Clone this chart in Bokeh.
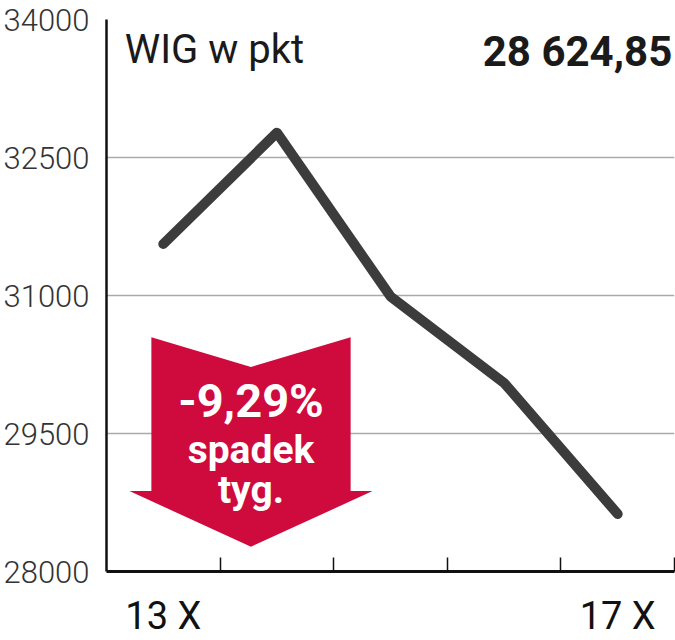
from bokeh.plotting import figure
from bokeh.models import Range1d, FixedTicker, ColumnDataSource, Label
from bokeh.core.properties import value
from bokeh.embed import file_html
from bokeh.resources import INLINE

# data
days = ["13 X", "14 X", "15 X", "16 X", "17 X"]
wig = [31560, 32770, 30990, 30050, 28624.85]
y_ticks = [28000, 29500, 31000, 32500, 34000]
title_txt = "WIG w pkt"
last_txt = "28 624,85"
badge_lines = ["-9,29%", "spadek", "tyg."]

xs = [i + 0.5 for i in range(len(days))]

p = figure(width=675, height=640, output_backend="svg", toolbar_location=None,
           x_range=Range1d(0, len(days)), y_range=Range1d(28000, 34000),
           min_border_left=104, min_border_right=1, min_border_top=19, min_border_bottom=67)
p.outline_line_color = None
p.background_fill_color = "white"
p.border_fill_color = "white"

# y axis
p.yaxis.ticker = FixedTicker(ticks=y_ticks)
p.yaxis.major_tick_line_color = None
p.yaxis.minor_tick_line_color = None
p.yaxis.axis_line_color = "#111111"
p.yaxis.axis_line_width = 2.5
p.yaxis.major_label_text_font = "Roboto Light, Roboto"
p.yaxis.major_label_text_font_size = "31px"
p.yaxis.major_label_text_color = "#333333"
p.yaxis.major_label_standoff = 11
p.ygrid.ticker = FixedTicker(ticks=y_ticks[1:])
p.ygrid.grid_line_color = "#aaaaaa"
p.ygrid.grid_line_width = 1.5

# x axis
p.xaxis.ticker = FixedTicker(ticks=[xs[0], xs[-1]], minor_ticks=list(range(1, len(days) + 1)))
p.xaxis.major_label_overrides = {xs[0]: days[0], xs[-1]: days[-1]}
p.xaxis.major_tick_line_color = None
p.xaxis.minor_tick_line_color = "#111111"
p.xaxis.minor_tick_line_width = 1.5
p.xaxis.minor_tick_in = 14
p.xaxis.minor_tick_out = 0
p.xaxis.axis_line_color = "#111111"
p.xaxis.axis_line_width = 3
p.xaxis.major_label_text_font = "Roboto"
p.xaxis.major_label_text_font_size = "38px"
p.xaxis.major_label_text_color = "#111111"
p.xaxis.major_label_standoff = 16
p.xgrid.grid_line_color = None

# arrow badge
ax = [0.395, 1.272, 2.149, 2.149, 2.342, 1.272, 0.202, 0.395]
ay = [30547, 30223, 30547, 28874, 28874, 28270, 28874, 28874]
p.patch(ax, ay, fill_color="#cf0a3c", line_color=None)
p.text(x=[1.272], y=[29860], text=[badge_lines[0]], text_font=value("Roboto"),
       text_font_style="bold", text_font_size="47px", text_color="white",
       text_align="center", text_baseline="alphabetic")
p.text(x=[1.272, 1.272], y=[29321, 28889], text=badge_lines[1:], text_font=value("Roboto"),
       text_font_style="bold", text_font_size="39px", text_color="white",
       text_align="center", text_baseline="alphabetic")

# line
src = ColumnDataSource(dict(x=xs, y=wig))
p.line("x", "y", source=src, line_color="#3c3c3c", line_width=10,
       line_cap="round", line_join="round")

# headers
p.add_layout(Label(x=0.16, y=33670, text=title_txt, text_font="Roboto",
                   text_font_size="40px", text_color="#1a1a1a",
                   text_align="left", text_baseline="alphabetic"))
p.add_layout(Label(x=4.98, y=33655, text=last_txt, text_font="Roboto",
                   text_font_style="bold", text_font_size="42px", text_color="#1a1a1a",
                   text_align="right", text_baseline="alphabetic"))

open("out.html", "w").write(file_html(p, INLINE))
